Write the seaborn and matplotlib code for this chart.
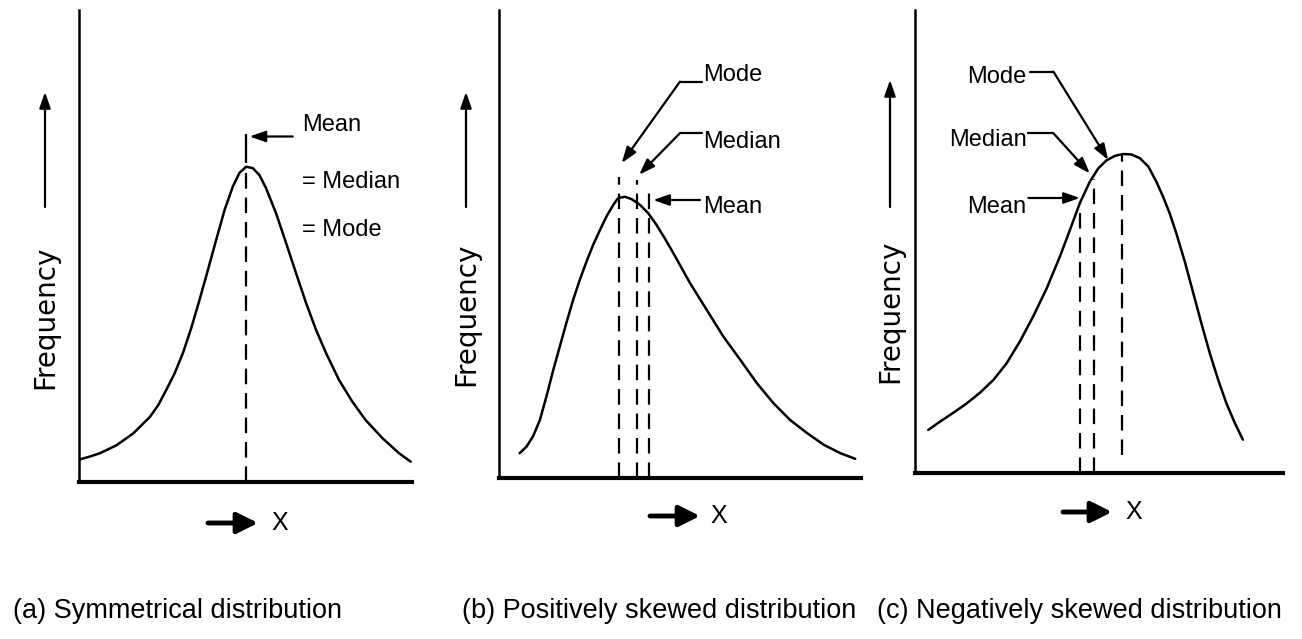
import matplotlib
matplotlib.use('Agg')
import matplotlib.pyplot as plt
import seaborn as sns

# curves, x and frequency both on a 0-10 scale
sym_x = [0.03, 0.33, 0.63, 1.13, 1.63, 2.13, 2.38, 2.62, 2.87, 3.12, 3.37, 3.62,
         3.87, 4.12, 4.37, 4.62, 4.82, 5.02, 5.22, 5.42, 5.62, 5.92, 6.22, 6.52,
         6.82, 7.12, 7.42, 7.81, 8.21, 8.61, 9.11, 9.61, 9.96]
sym_y = [0.48, 0.54, 0.61, 0.78, 1.03, 1.38, 1.63, 1.95, 2.30, 2.73, 3.26, 3.86,
         4.49, 5.13, 5.76, 6.26, 6.55, 6.68, 6.65, 6.50, 6.22, 5.69, 5.06, 4.42,
         3.79, 3.22, 2.73, 2.16, 1.70, 1.31, 0.93, 0.61, 0.43]
sym_centre = 5.02   # mean = median = mode
sym_peak = 6.68

pos_x = [0.57, 0.76, 0.94, 1.13, 1.31, 1.50, 1.68, 1.86, 2.05, 2.23, 2.42, 2.60,
         2.79, 2.97, 3.16, 3.29, 3.48, 3.66, 3.89, 4.12, 4.35, 4.58, 4.82, 5.28,
         5.74, 6.20, 6.66, 7.12, 7.58, 8.04, 8.51, 8.97, 9.43, 9.84]
pos_y = [0.53, 0.67, 0.89, 1.24, 1.74, 2.31, 2.81, 3.31, 3.81, 4.23, 4.63, 4.98,
         5.30, 5.59, 5.84, 5.98, 6.01, 5.96, 5.84, 5.66, 5.41, 5.12, 4.80, 4.16,
         3.59, 3.02, 2.53, 2.03, 1.60, 1.24, 0.96, 0.71, 0.53, 0.41]
pos_marks_x = [3.31, 3.82, 4.15]       # mode, median, mean
pos_marks_top = [6.44, 6.37, 6.16]

neg_x = [0.36, 0.68, 1.04, 1.40, 1.76, 2.13, 2.49, 2.85, 3.21, 3.58, 3.94, 4.21,
         4.48, 4.75, 4.98, 5.20, 5.43, 5.66, 5.88, 6.11, 6.34, 6.56, 6.74, 6.92,
         7.10, 7.33, 7.56, 7.78, 8.01, 8.24, 8.46, 8.69, 8.91]
neg_y = [0.93, 1.11, 1.30, 1.50, 1.73, 2.01, 2.37, 2.84, 3.38, 3.99, 4.68, 5.25,
         5.83, 6.29, 6.58, 6.75, 6.85, 6.89, 6.88, 6.80, 6.62, 6.29, 5.97, 5.61,
         5.18, 4.57, 3.89, 3.24, 2.59, 2.01, 1.51, 1.08, 0.72]
neg_marks_x = [5.63, 4.87, 4.48]       # mode, median, mean
neg_marks_top = [6.89, 6.36, 5.83]
neg_marks_bottom = [0.39, 0.0, 0.0]

captions = ['(a) Symmetrical distribution',
            '(b) Positively skewed distribution',
            '(c) Negatively skewed distribution']

W, H = 1302, 639

sns.set_style('white')
plt.rcParams['font.family'] = ['Liberation Sans', 'DejaVu Sans']
plt.rcParams['text.color'] = 'black'


def box(left, top, right, bottom):
    # pixel box -> figure fraction
    return [left / W, 1 - bottom / H, (right - left) / W, (bottom - top) / H]


def setup(ax):
    ax.set_xlim(0, 10)
    ax.set_ylim(0, 10)
    ax.set_xticks([])
    ax.set_yticks([])
    ax.set_xlabel('')
    ax.set_ylabel('')
    sns.despine(ax=ax)
    ax.spines['left'].set_linewidth(1.8)
    ax.spines['bottom'].set_linewidth(3.0)
    for s in ('left', 'bottom'):
        ax.spines[s].set_color('black')
    ax.patch.set_alpha(0)


def arrow(ax, tip, tail, coords='data', big=False):
    if big:
        props = dict(arrowstyle='-|>,head_length=0.9,head_width=0.45', lw=3.5,
                     color='black', mutation_scale=14, shrinkA=0, shrinkB=0)
    else:
        props = dict(arrowstyle='-|>,head_length=0.8,head_width=0.28', lw=1.6,
                     color='black', mutation_scale=12, shrinkA=0, shrinkB=0)
    ax.annotate('', xy=tip, xytext=tail, xycoords=coords, textcoords=coords,
                arrowprops=props, annotation_clip=False)


dash = (0, (7, 4))
label_kw = dict(fontsize=17, va='center', color='black')

fig = plt.figure(figsize=(W / 100, H / 100), dpi=100)
ax_a = fig.add_axes(box(79, 10, 412, 482))
ax_b = fig.add_axes(box(499, 10, 861, 478))
ax_c = fig.add_axes(box(915, 10, 1283, 473))

# (a) symmetrical
sns.lineplot(x=sym_x, y=sym_y, ax=ax_a, color='black', lw=1.8, estimator=None)
ax_a.vlines(sym_centre, 0, sym_peak, color='black', lw=1.6, linestyles=dash)
ax_a.vlines(sym_centre, sym_peak + 0.07, sym_peak + 0.7, color='black', lw=1.6)
arrow(ax_a, (sym_centre + 0.1, 7.32), (6.42, 7.32))
ax_a.text(6.71, 7.56, 'Mean', **label_kw)
ax_a.text(6.71, 6.36, '= Median', **label_kw)
ax_a.text(6.71, 5.34, '= Mode', **label_kw)

# (b) positively skewed
sns.lineplot(x=pos_x, y=pos_y, ax=ax_b, color='black', lw=1.8, estimator=None)
ax_b.vlines(pos_marks_x, 0, pos_marks_top, color='black', lw=1.6, linestyles=dash)
ax_b.plot([5.60, 5.00], [8.47, 8.47], color='black', lw=1.6)
arrow(ax_b, (3.39, 6.73), (5.00, 8.47))
ax_b.plot([5.60, 5.00], [7.37, 7.37], color='black', lw=1.6)
arrow(ax_b, (3.87, 6.48), (5.00, 7.37))
arrow(ax_b, (4.26, 5.94), (5.55, 5.94))
ax_b.text(5.65, 8.61, 'Mode', **label_kw)
ax_b.text(5.65, 7.19, 'Median', **label_kw)
ax_b.text(5.65, 5.80, 'Mean', **label_kw)

# (c) negatively skewed
sns.lineplot(x=neg_x, y=neg_y, ax=ax_c, color='black', lw=1.8, estimator=None)
ax_c.vlines(neg_marks_x, neg_marks_bottom, neg_marks_top, color='black', lw=1.6,
            linestyles=dash)
ax_c.plot([3.12, 3.76], [8.67, 8.67], color='black', lw=1.6)
arrow(ax_c, (5.25, 6.76), (3.76, 8.67))
ax_c.plot([3.08, 3.76], [7.34, 7.34], color='black', lw=1.6)
arrow(ax_c, (4.75, 6.47), (3.76, 7.34))
arrow(ax_c, (4.48, 5.94), (3.08, 5.94))
ax_c.text(3.03, 8.56, 'Mode', ha='right', **label_kw)
ax_c.text(3.03, 7.19, 'Median', ha='right', **label_kw)
ax_c.text(3.03, 5.75, 'Mean', ha='right', **label_kw)

for ax in (ax_a, ax_b, ax_c):
    setup(ax)

# "Frequency ->" on each y axis
for x, yc, top in [(45, 317, 92), (466, 314, 92), (890, 311, 80)]:
    fig.text(x / W, 1 - yc / H, 'Frequency', rotation=90, ha='center', va='center',
             fontsize=20, family=['DejaVu Sans'])
    arrow(ax_a, (x, H - top), (x, H - 207), coords='figure pixels')

# "-> X" under each x axis
for x0, x1, y, xt in [(208, 258, 523, 280), (650, 700, 516, 719), (1063, 1112, 512, 1134)]:
    arrow(ax_a, (x1, H - y), (x0, H - y), coords='figure pixels', big=True)
    fig.text(xt / W, 1 - y / H, 'X', ha='center', va='center', fontsize=18)

# captions
for x, cap in zip([13, 462, 877], captions):
    fig.text(x / W, 1 - 611 / H, cap, ha='left', va='center', fontsize=19.5)

fig.savefig('out.png', dpi=100, facecolor='white')
